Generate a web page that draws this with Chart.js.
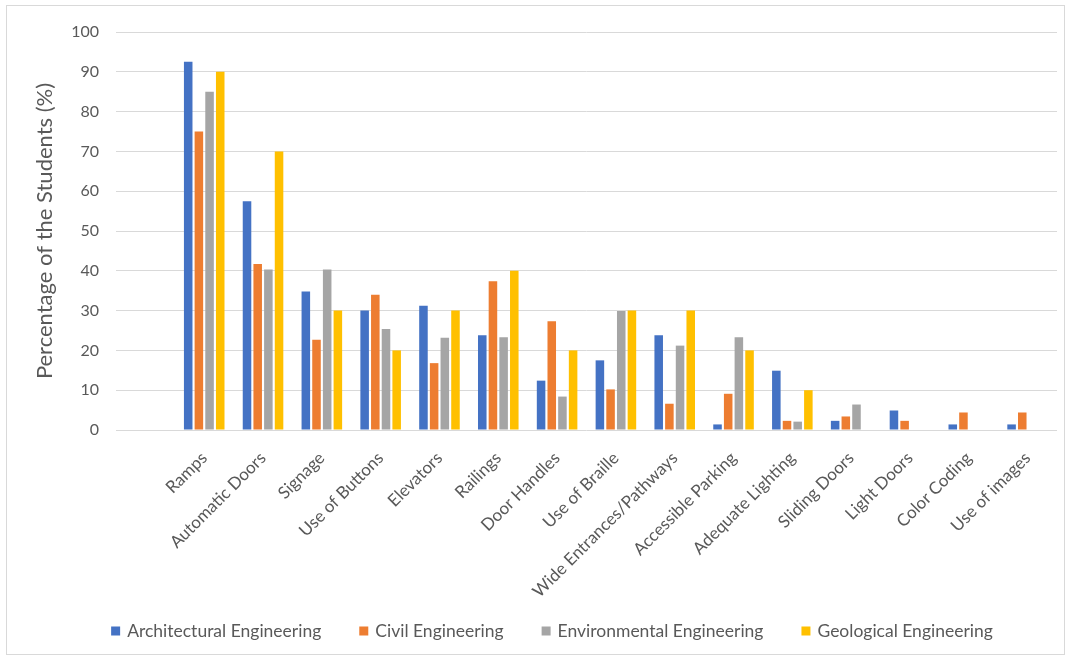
<!DOCTYPE html>
<html>
<head>
<meta charset="utf-8">
<script src="https://cdn.jsdelivr.net/npm/chart.js@4"></script>
<style>
  html, body { margin: 0; padding: 0; background: #ffffff; }
  #wrap { position: relative; width: 1070px; height: 658px; }
</style>
</head>
<body>
<div id="wrap"><canvas id="c" width="1070" height="658"></canvas></div>
<script>
// ---- data ----
const categories = ['', 'Ramps', 'Automatic Doors', 'Signage', 'Use of Buttons', 'Elevators', 'Railings',
  'Door Handles', 'Use of Braille', 'Wide Entrances/Pathways', 'Accessible Parking',
  'Adequate Lighting', 'Sliding Doors', 'Light Doors', 'Color Coding', 'Use of images'];
const seriesNames = ['Architectural Engineering', 'Civil Engineering', 'Environmental Engineering', 'Geological Engineering'];
const architectural = [null, 92.5, 57.5, 34.8, 30, 31.2, 23.8, 12.4, 17.5, 23.8, 1.4, 14.9, 2.3, 4.9, 1.4, 1.4];
const civil         = [null, 75, 41.7, 22.7, 34.0, 16.8, 37.4, 27.3, 10.2, 6.6, 9.1, 2.3, 3.4, 2.3, 4.4, 4.4];
const environmental = [null, 85, 40.3, 40.3, 25.4, 23.2, 23.3, 8.4, 29.9, 21.2, 23.3, 2.1, 6.4, 0, 0, 0];
const geological    = [null, 90, 70, 30, 20, 30, 40, 20, 30, 30, 20, 10, 0, 0, 0, 0];
const yTicks = [0, 10, 20, 30, 40, 50, 60, 70, 80, 90, 100];
const yTitle = 'Percentage of the Students (%)';

const colors = ['#4472C4', '#ED7D31', '#A5A5A5', '#FFC000'];
const seriesData = [architectural, civil, environmental, geological];

Chart.defaults.font.family = 'Lato, Carlito, "Open Sans", sans-serif';
Chart.defaults.color = '#595959';

const borderPlugin = {
  id: 'frame',
  beforeDraw(chart) {
    const ctx = chart.ctx;
    ctx.save();
    ctx.fillStyle = '#ffffff';
    ctx.fillRect(0, 0, chart.width, chart.height);
    ctx.strokeStyle = '#d9d9d9';
    ctx.lineWidth = 1;
    ctx.strokeRect(6.5, 5.5, 1058, 649);
    ctx.restore();
  }
};

const legendPlugin = {
  id: 'customLegend',
  afterDraw(chart) {
    const ctx = chart.ctx;
    ctx.save();
    ctx.font = '17.5px ' + Chart.defaults.font.family;
    ctx.textBaseline = 'middle';
    ctx.textAlign = 'left';
    const box = 9, gapText = 7, gapItem = 38;
    const items = chart.data.datasets.map(d => ({ text: d.label, color: d.backgroundColor, w: ctx.measureText(d.label).width }));
    let total = 0;
    items.forEach((it, i) => { total += box + gapText + it.w + (i < items.length - 1 ? gapItem : 0); });
    let x = 552 - total / 2;
    const y = 631;
    items.forEach(it => {
      ctx.fillStyle = it.color;
      ctx.fillRect(x, y - box / 2, box, box);
      x += box + gapText;
      ctx.fillStyle = '#595959';
      ctx.fillText(it.text, x, y);
      x += it.w + gapItem;
    });
    ctx.restore();
  }
};

new Chart(document.getElementById('c'), {
  type: 'bar',
  data: {
    labels: categories,
    datasets: seriesData.map((d, i) => ({
      label: seriesNames[i],
      data: d,
      backgroundColor: colors[i],
      borderWidth: 0,
      categoryPercentage: 0.726,
      barPercentage: 0.8
    }))
  },
  options: {
    responsive: false,
    animation: false,
    devicePixelRatio: 1,
    layout: { padding: { top: 32, right: 13, bottom: 60, left: 0 } },
    plugins: {
      legend: { display: false },
      tooltip: { enabled: false }
    },
    scales: {
      x: {
        grid: { display: false },
        border: { display: false },
        ticks: {
          autoSkip: false,
          minRotation: 45,
          maxRotation: 45,
          padding: 10,
          font: { size: 17 },
          color: '#595959'
        },
        afterFit(scale) { scale.height = 168; }
      },
      y: {
        min: 0,
        max: 100,
        afterBuildTicks(scale) { scale.ticks = yTicks.map(v => ({ value: v })); },
        grid: { color: '#d9d9d9', lineWidth: 1, drawTicks: false },
        border: { display: false },
        ticks: { padding: 17, font: { size: 16 }, color: '#595959' },
        title: {
          display: true,
          text: yTitle,
          font: { size: 22 },
          color: '#595959',
          padding: { top: 32, bottom: 0 }
        },
        afterFit(scale) { scale.width = 116; }
      }
    }
  },
  plugins: [borderPlugin, legendPlugin]
});
</script>
</body>
</html>
